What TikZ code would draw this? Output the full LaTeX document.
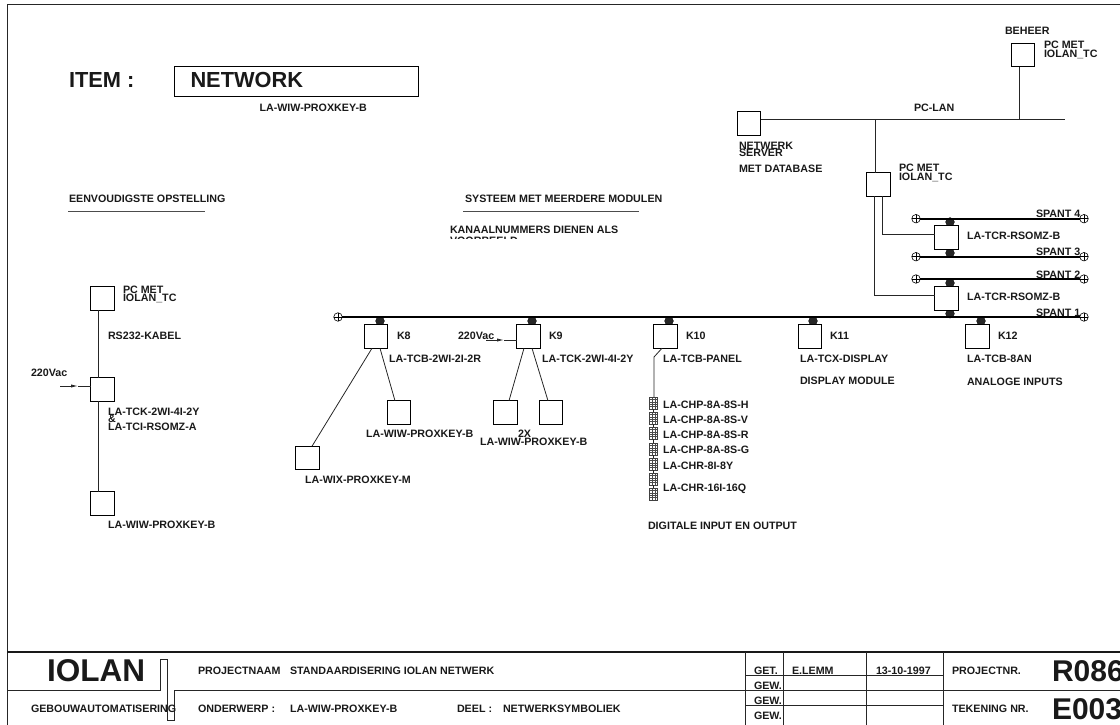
\documentclass[tikz,border=0pt]{standalone}
\usepackage{fontspec}
\setmainfont{Liberation Sans}
\usetikzlibrary{arrows.meta,calc}
\tikzset{
  lbl/.style={anchor=base west,inner sep=0pt,outer sep=0pt,font=\fontsize{10.7}{10.7}\selectfont\bfseries,text=black!90},
  big/.style={lbl,font=\fontsize{21.8}{21.8}\selectfont\bfseries},
  huge/.style={lbl,font=\fontsize{31.5}{31.5}\selectfont\bfseries},
  mbox/.style={draw,fill=white,rectangle,line width=.8pt,minimum size=23.5pt,inner sep=0pt,outer sep=0pt},
  wire/.style={line width=.8pt,black!85},
  rail/.style={line width=2pt,black},
  rule/.style={line width=1pt,black!70},
  frame/.style={line width=1pt,black!85},
  heavy/.style={line width=1.8pt,black!90},
  dotn/.style={circle,fill=black!85,draw=black,line width=.3pt,minimum size=8.8pt,inner sep=0pt,outer sep=0pt},
  term/.style={circle,draw,line width=.6pt,fill=white,minimum size=8.5pt,inner sep=0pt,outer sep=0pt,
    path picture={\draw[line width=.6pt] (path picture bounding box.north)--(path picture bounding box.south)
      (path picture bounding box.west)--(path picture bounding box.east);}},
  chip/.style={draw=black!75,rectangle,line width=.6pt,minimum width=8pt,minimum height=12pt,inner sep=0pt,outer sep=0pt,
    path picture={
      \draw[line width=.35pt,black!70] ([xshift=-1.3pt]path picture bounding box.north)--([xshift=-1.3pt]path picture bounding box.south)
        ([xshift=1.3pt]path picture bounding box.north)--([xshift=1.3pt]path picture bounding box.south);
      \foreach \k in {-3.6,-1.2,1.2,3.6}{\draw[line width=.3pt,black!70] ([yshift=\k pt]path picture bounding box.west)--([yshift=\k pt]path picture bounding box.east);}
    }},
  midarrow/.style={wire,-{Latex[length=7pt,width=3.2pt]}}
}
\begin{document}
\begin{tikzpicture}[x=1pt,y=-1pt]
\useasboundingbox (0,0) rectangle (1120,725);
% frame
\coordinate (fa) at (7,725); \coordinate (fb) at (7,5); \coordinate (fc) at (1120,5);
\draw[frame] (fa)--(fb)--(fc);
\coordinate (tl) at (7,652); \coordinate (tr) at (1120,652);
\draw[heavy] (tl)--(tr);
\draw[wire] (7,690)--(160,690)--(160,659)--(167,659)--(167,720)--(174,720)--(174,690)--(1120,690);
\foreach \x in {745,783,866,943}{\draw[wire] (\x,652)--(\x,725);}
\draw[wire] (745,675)--(943,675) (745,705)--(943,705);
% title block
\node[huge] (iolan) at (47,681) {IOLAN};
\node[lbl] at (198,674) {PROJECTNAAM};
\node[lbl] at (290,674) {STANDAARDISERING IOLAN NETWERK};
\node[lbl] at (31,712) {GEBOUWAUTOMATISERING};
\node[lbl] at (198,712) {ONDERWERP :};
\node[lbl] at (290,712) {LA-WIW-PROXKEY-B};
\node[lbl] at (457,712) {DEEL :};
\node[lbl] at (503,712) {NETWERKSYMBOLIEK};
\node[lbl] at (754,674) {GET.};
\node[lbl] at (754,689) {GEW.};
\node[lbl] at (754,704) {GEW.};
\node[lbl] at (754,719) {GEW.};
\node[lbl] at (792,674) {E.LEMM};
\node[lbl] at (876,674) {13-10-1997};
\node[lbl] at (952,674) {PROJECTNR.};
\node[lbl] at (952,712) {TEKENING NR.};
\node[lbl,font=\fontsize{30}{30}\selectfont\bfseries] at (1052,681) {R086};
\node[lbl,font=\fontsize{30}{30}\selectfont\bfseries] at (1052,719) {E003};
% heading
\node[big] at (69,88) {ITEM :};
\node[draw,rectangle,line width=1pt,minimum width=244pt,minimum height=30pt,inner sep=0pt] (item) at (296,82) {};
\node[big] at (190.5,88) {NETWORK};
\node[lbl] at (259.5,111) {LA-WIW-PROXKEY-B};
\node[lbl] (h1) at (69,202) {EENVOUDIGSTE OPSTELLING};
\draw[rule] (68,211)--(205,211);
\node[lbl] (h2) at (465,202) {SYSTEEM MET MEERDERE MODULEN};
\draw[rule] (463,211)--(639,211);
\node[lbl] at (450,233) {KANAALNUMMERS DIENEN ALS};
\begin{scope}
\clip (445,228) rectangle (600,238);
\node[lbl] at (450,244.5) {VOORBEELD};
\end{scope}
% simple setup
\node[mbox] (a1) at (102.5,298.5) {};
\node[mbox] (a2) at (102.5,389.5) {};
\node[mbox] (a3) at (102.5,503.5) {};
\draw[wire] ([xshift=-4.5pt]a1.south)--([xshift=-4.5pt]a2.north);
\draw[wire] ([xshift=-4.5pt]a2.south)--([xshift=-4.5pt]a3.north);
\coordinate (ap) at (60,386);
\coordinate (apm) at (78,386);
\coordinate (ape) at (91,386);
\draw[midarrow] (ap)--(apm);
\draw[wire] (apm)--(ape);
\node[lbl] at (123,293) {PC MET};
\node[lbl] at (123,301) {IOLAN\_TC};
\node[lbl] at (108,339) {RS232-KABEL};
\node[lbl] at (31,376) {220Vac};
\node[lbl] at (108,415) {LA-TCK-2WI-4I-2Y};
\node[lbl] at (108,422) {\&};
\node[lbl] at (108,430) {LA-TCI-RSOMZ-A};
\node[lbl] at (108,528) {LA-WIW-PROXKEY-B};
% dots (behind the rails and boxes)
\node[dotn] at (380,321) {};
\node[dotn] at (532,321) {};
\node[dotn] at (669,321) {};
\node[dotn] at (813,321) {};
\node[dotn] at (981,321) {};
\node[dotn] at (950,222) {};
\node[dotn] at (950,253) {};
\node[dotn] at (950,283) {};
\node[dotn] at (950,313.7) {};
% main bus
\node[term] (s1l) at (338,317) {};
\node[term] (s1r) at (1084,317) {};
\draw[rail] (s1l)--(s1r);
\node[term] (s2l) at (916,279) {};
\node[term] (s2r) at (1084,279) {};
\draw[rail] (s2l)--(s2r);
\node[term] (s3l) at (916,256.7) {};
\node[term] (s3r) at (1084,256.7) {};
\draw[rail] (s3l)--(s3r);
\node[term] (s4l) at (916,218.7) {};
\node[term] (s4r) at (1084,218.7) {};
\draw[rail] (s4l)--(s4r);
\node[lbl] at (1036,217) {SPANT 4};
\node[lbl] at (1036,255) {SPANT 3};
\node[lbl] at (1036,278) {SPANT 2};
\node[lbl] at (1036,316) {SPANT 1};
% modules
\node[mbox] (k8) at (376,336.5) {};
\node[mbox] (k9) at (528.5,336.5) {};
\node[mbox] (k10) at (665.5,336.5) {};
\node[mbox] (k11) at (810,336.5) {};
\node[mbox] (k12) at (977.5,336.5) {};
\node[lbl] at (397,339) {K8};
\node[lbl] at (549,339) {K9};
\node[lbl] at (686,339) {K10};
\node[lbl] at (830,339) {K11};
\node[lbl] at (998,339) {K12};
\node[lbl] at (389,362) {LA-TCB-2WI-2I-2R};
\node[lbl] at (542,362) {LA-TCK-2WI-4I-2Y};
\node[lbl] at (663,362) {LA-TCB-PANEL};
\node[lbl] at (800,362) {LA-TCX-DISPLAY};
\node[lbl] at (967,362) {LA-TCB-8AN};
\node[lbl] at (800,384) {DISPLAY MODULE};
\node[lbl] at (967,385) {ANALOGE INPUTS};
% K8 children
\node[mbox] (wix) at (307.5,458) {};
\node[mbox] (wiw) at (399,412.5) {};
\draw[wire] ([xshift=-4pt]k8.south)--([xshift=4.5pt]wix.north);
\draw[wire] ([xshift=4pt]k8.south)--([xshift=-4pt]wiw.north);
\node[lbl] at (305,483) {LA-WIX-PROXKEY-M};
\node[lbl] at (366,437) {LA-WIW-PROXKEY-B};
% K9 children
\node[mbox] (w1) at (505.5,412.5) {};
\node[mbox] (w2) at (551,412.5) {};
\draw[wire] ([xshift=-4.5pt]k9.south)--([xshift=3.5pt]w1.north);
\draw[wire] ([xshift=3.5pt]k9.south)--([xshift=-3pt]w2.north);
\coordinate (bp) at (486,340);
\coordinate (bpm) at (504,340);
\coordinate (bpe) at (517,340);
\draw[midarrow] (bp)--(bpm);
\draw[wire] (bpm)--(bpe);
\node[lbl] at (458,339) {220Vac};
\node[lbl] at (518,437) {2X};
\node[lbl] at (480,445) {LA-WIW-PROXKEY-B};
% chips
\node[chip] (c1) at (653.7,403) {};
\node[chip] (c2) at (653.7,418) {};
\node[chip] (c3) at (653.7,433) {};
\node[chip] (c4) at (653.7,449) {};
\node[chip] (c5) at (653.7,464) {};
\node[chip] (c6) at (653.7,479) {};
\node[chip] (c7) at (653.7,494) {};
\coordinate (kb) at (654,357);
\draw[wire] ([xshift=-3.5pt]k10.south)--(kb)--(kb|-c1.north);
\draw[wire] (c1.south)--(c2.north) (c2.south)--(c3.north) (c3.south)--(c4.north) (c4.south)--(c5.north) (c5.south)--(c6.north) (c6.south)--(c7.north);
\node[lbl] at (663,408) {LA-CHP-8A-8S-H};
\node[lbl] at (663,423) {LA-CHP-8A-8S-V};
\node[lbl] at (663,438) {LA-CHP-8A-8S-R};
\node[lbl] at (663,453) {LA-CHP-8A-8S-G};
\node[lbl] at (663,469) {LA-CHR-8I-8Y};
\node[lbl] at (663,491) {LA-CHR-16I-16Q};
\node[lbl] at (648,529) {DIGITALE INPUT EN OUTPUT};
% PC-LAN
\node[mbox] (srv) at (749,123.5) {};
\node[mbox] (beh) at (1023,55) {};
\node[mbox] (pc) at (878.5,184.5) {};
\coordinate (lanr) at (1065,119.5);
\draw[wire] (srv.east|-lanr)--(lanr);
\coordinate (lanb) at (875,119.5);
\coordinate (lanc) at (1019,119.5);
\draw[wire] ([xshift=-4pt]beh.south)--(lanc);
\draw[wire] (lanb)--(lanb|-pc.north);
\node[lbl] at (914,111) {PC-LAN};
\node[lbl] at (1005,35) {BEHEER};
\node[lbl] at (1044,49) {PC MET};
\node[lbl] at (1044,58) {IOLAN\_TC};
\node[lbl] at (739,149) {NETWERK};
\node[lbl] at (739,157) {SERVER};
\node[lbl] at (739,172) {MET DATABASE};
\node[lbl] at (899,171) {PC MET};
\node[lbl] at (899,180) {IOLAN\_TC};
% RSOMZ
\node[mbox] (r1) at (946.5,237.5) {};
\node[mbox] (r2) at (946.5,298.5) {};
\coordinate (pa) at (882,234);
\coordinate (pb) at (874,295);
\draw[wire] (pa|-pc.south)--(pa)--(pa-|r1.west);
\draw[wire] (pb|-pc.south)--(pb)--(pb-|r2.west);
\node[lbl] at (967,239) {LA-TCR-RSOMZ-B};
\node[lbl] at (967,300) {LA-TCR-RSOMZ-B};
\end{tikzpicture}
\end{document}
